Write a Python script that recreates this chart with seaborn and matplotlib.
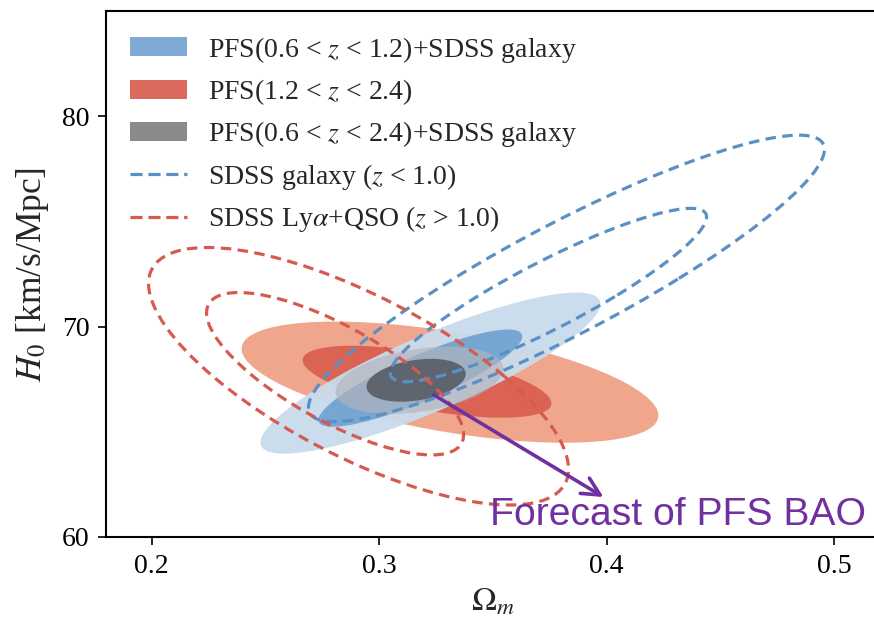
import numpy as np
import matplotlib
matplotlib.use("Agg")
import matplotlib.pyplot as plt
from matplotlib.patches import Ellipse, Patch
from matplotlib.lines import Line2D
import seaborn as sns

# ---------------- data ----------------
# each contour: centre (Omega_m, H0), half-extent in x, half-extent in y, correlation
pfs_low_cx = [0.3226, 0.3182]      # 95%, 68%
pfs_low_cy = [67.79, 67.55]
pfs_low_hw = [0.0747, 0.0448]
pfs_low_hh = [3.83, 2.31]
pfs_low_rho = [0.86, 0.86]

pfs_high_cx = [0.3312, 0.3211]
pfs_high_cy = [67.36, 67.38]
pfs_high_hw = [0.0916, 0.0547]
pfs_high_hh = [2.88, 1.71]
pfs_high_rho = [-0.55, -0.60]

pfs_all_cx = [0.3178, 0.3163]
pfs_all_cy = [67.45, 67.45]
pfs_all_hw = [0.0369, 0.0218]
pfs_all_hh = [1.60, 1.02]
pfs_all_rho = [0.34, 0.30]

sdss_gal_cx = [0.3824, 0.3745]
sdss_gal_cy = [72.29, 71.50]
sdss_gal_hw = [0.1134, 0.0695]
sdss_gal_hh = [6.81, 4.12]
sdss_gal_rho = [0.90, 0.90]

sdss_lya_cx = [0.2910, 0.2807]
sdss_lya_cy = [67.64, 67.76]
sdss_lya_hw = [0.0923, 0.0565]
sdss_lya_hh = [6.12, 3.86]
sdss_lya_rho = [-0.72, -0.75]

legend_labels = [
    r"PFS(0.6 < $z$ < 1.2)+SDSS galaxy",
    r"PFS(1.2 < $z$ < 2.4)",
    r"PFS(0.6 < $z$ < 2.4)+SDSS galaxy",
    r"SDSS galaxy ($z$ < 1.0)",
    r"SDSS Ly$\alpha$+QSO ($z$ > 1.0)",
]
x_ticks = [0.2, 0.3, 0.4, 0.5]
y_ticks = [60, 70, 80]
annot_text = "Forecast of PFS BAO"
annot_xy = (0.3987, 61.9)
annot_from = (0.324, 66.76)
annot_text_pos = (0.3486, 60.57)

# ---------------- style ----------------
sns.set_theme(style="ticks")
plt.rcParams["font.family"] = ["Liberation Serif", "DejaVu Serif"]
plt.rcParams["mathtext.fontset"] = "stix"

fig = plt.figure(figsize=(8.74, 6.21), dpi=100)
ax = fig.add_axes([106 / 874, 84 / 621, 773.5 / 874, 526 / 621])
ax.set_xlim(0.18, 0.52)
ax.set_ylim(60, 85)


def ellipse(cx, cy, hw, hh, rho, **kw):
    cov = np.array([[hw * hw, rho * hw * hh], [rho * hw * hh, hh * hh]])
    vals, vecs = np.linalg.eigh(cov)
    order = vals.argsort()[::-1]
    vals, vecs = vals[order], vecs[:, order]
    ang = np.degrees(np.arctan2(vecs[1, 0], vecs[0, 0]))
    return Ellipse((cx, cy), 2 * np.sqrt(vals[0]), 2 * np.sqrt(vals[1]),
                   angle=ang, **kw)


def add_set(cxs, cys, hws, hhs, rhos, styles, z):
    for cx, cy, hw, hh, rho, st in zip(cxs, cys, hws, hhs, rhos, styles):
        ax.add_patch(ellipse(cx, cy, hw, hh, rho, zorder=z, **st))


add_set(pfs_high_cx, pfs_high_cy, pfs_high_hw, pfs_high_hh, pfs_high_rho,
        [dict(facecolor="#f0a68c", edgecolor="none"),
         dict(facecolor="#db6354", edgecolor="none")], 2)
add_set(pfs_low_cx, pfs_low_cy, pfs_low_hw, pfs_low_hh, pfs_low_rho,
        [dict(facecolor="#c9dbec", edgecolor="none", alpha=0.95),
         dict(facecolor="#72a3d0", edgecolor="none", alpha=0.95)], 3)
add_set(pfs_all_cx, pfs_all_cy, pfs_all_hw, pfs_all_hh, pfs_all_rho,
        [dict(facecolor="#b4b4bc", edgecolor="none", alpha=0.65),
         dict(facecolor="#5c616b", edgecolor="none", alpha=0.95)], 4)

dash = (0, (3.3, 2.0))
add_set(sdss_gal_cx, sdss_gal_cy, sdss_gal_hw, sdss_gal_hh, sdss_gal_rho,
        [dict(fill=False, edgecolor="#5b90c5", lw=2.3, ls=dash)] * 2, 5)
add_set(sdss_lya_cx, sdss_lya_cy, sdss_lya_hw, sdss_lya_hh, sdss_lya_rho,
        [dict(fill=False, edgecolor="#d65a50", lw=2.3, ls=dash)] * 2, 5)

# arrow and annotation
ax.annotate("", xy=annot_xy, xytext=annot_from,
            arrowprops=dict(arrowstyle="->", color="#7030a0", lw=2.6,
                            mutation_scale=32, shrinkA=0, shrinkB=0),
            zorder=6)
ax.text(annot_text_pos[0], annot_text_pos[1], annot_text, color="#7030a0",
        fontsize=28.2, family=["Liberation Sans", "DejaVu Sans"],
        ha="left", va="baseline", zorder=7)

# axes cosmetics
ax.set_xticks(x_ticks)
ax.set_xticklabels([f"{t:.1f}" for t in x_ticks])
ax.set_yticks(y_ticks)
ax.set_yticklabels([str(t) for t in y_ticks])
ax.tick_params(direction="out", length=6, width=1.2, labelsize=20,
               colors="black", pad=6)
for s in ["left", "bottom", "top"]:
    ax.spines[s].set_visible(True)
    ax.spines[s].set_linewidth(1.5)
    ax.spines[s].set_color("black")
ax.spines["right"].set_visible(False)
ax.set_xlabel(r"$\Omega_m$", fontsize=24, labelpad=6)
ax.set_ylabel(r"$H_0$ [km/s/Mpc]", fontsize=25.5, labelpad=8)

handles = [
    Patch(facecolor="#7eaad5", edgecolor="none"),
    Patch(facecolor="#dc6a5c", edgecolor="none"),
    Patch(facecolor="#8a8a8a", edgecolor="none"),
    Line2D([], [], color="#5b90c5", lw=2.3, ls=(0, (3.8, 1.8))),
    Line2D([], [], color="#d65a50", lw=2.3, ls=(0, (3.8, 1.8))),
]
ax.legend(handles, legend_labels, loc="upper left",
          bbox_to_anchor=(0.031, 0.955), frameon=False, fontsize=20,
          handlelength=2.05, handleheight=0.68, handletextpad=0.75,
          labelspacing=0.45, borderpad=0, borderaxespad=0)

fig.savefig("out.png", dpi=100)
